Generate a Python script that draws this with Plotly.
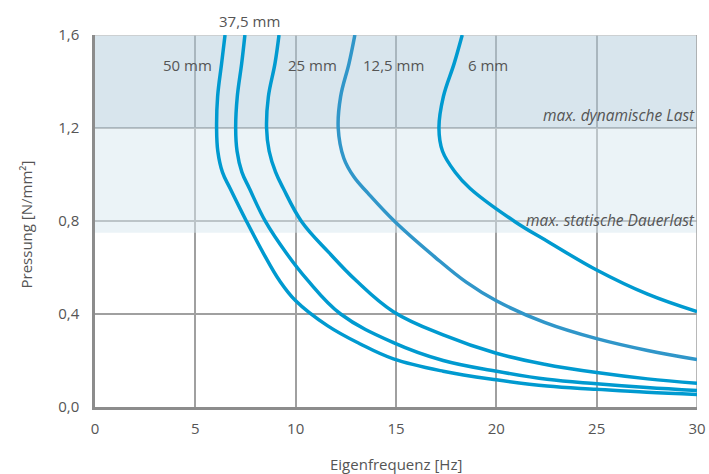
import plotly.graph_objects as go

# ---- data ----
x_50 = [6.48, 6.31, 6.11, 6.06, 6.12, 6.35, 6.73, 7.56, 8.40, 9.20, 10.0, 11.58, 13.22, 14.87, 17.35, 20.0, 22.53, 25.0, 27.5, 30.0]
y_50 = [1.60, 1.478, 1.335, 1.20, 1.10, 1.01, 0.941, 0.797, 0.660, 0.543, 0.457, 0.350, 0.271, 0.207, 0.154, 0.117, 0.090, 0.076, 0.063, 0.054]

x_375 = [7.47, 7.31, 7.09, 7.01, 7.08, 7.32, 7.69, 8.50, 9.55, 10.55, 12.24, 14.87, 17.35, 20.0, 22.53, 25.0, 27.5, 30.0]
y_375 = [1.60, 1.478, 1.335, 1.20, 1.10, 1.01, 0.941, 0.797, 0.660, 0.550, 0.400, 0.277, 0.200, 0.154, 0.119, 0.100, 0.084, 0.071]

x_25 = [9.17, 8.97, 8.64, 8.55, 8.68, 9.00, 9.38, 10.30, 11.65, 13.0, 14.87, 17.35, 20.0, 22.4, 25.0, 27.54, 30.0]
y_25 = [1.60, 1.478, 1.335, 1.20, 1.10, 1.01, 0.941, 0.797, 0.665, 0.545, 0.410, 0.310, 0.231, 0.184, 0.148, 0.121, 0.102]

x_125 = [12.95, 12.66, 12.24, 12.12, 12.40, 12.90, 13.60, 14.95, 16.94, 18.50, 20.0, 22.4, 25.0, 27.54, 30.0]
y_125 = [1.60, 1.478, 1.335, 1.20, 1.07, 0.99, 0.920, 0.797, 0.645, 0.537, 0.457, 0.364, 0.294, 0.243, 0.204]

x_6 = [18.30, 17.90, 17.36, 17.14, 17.32, 17.95, 18.68, 20.93, 22.6, 25.0, 27.54, 30.0]
y_6 = [1.60, 1.478, 1.335, 1.20, 1.10, 1.01, 0.941, 0.797, 0.710, 0.589, 0.485, 0.410]

series_names = ["50 mm", "37,5 mm", "25 mm", "12,5 mm", "6 mm"]
series_x = [x_50, x_375, x_25, x_125, x_6]
series_y = [y_50, y_375, y_25, y_125, y_6]
series_colors = ["#009ad0", "#009ad0", "#009ad0", "#3096c9", "#009ad0"]

# label anchor positions (data units; y may lie above the plotted range)
label_x = [4.6, 7.7, 10.85, 14.9, 19.6]
label_y = [1.47, 1.662, 1.47, 1.47, 1.47]

x_tickvals = [0, 5, 10, 15, 20, 25, 30]
x_ticktext = ["0", "5", "10", "15", "20", "25", "30"]
y_tickvals = [0.0, 0.4, 0.8, 1.2, 1.6]
y_ticktext = ["0,0", "0,4", "0,8", "1,2", "1,6"]

band_dyn = (1.2, 1.6)
band_stat = (0.75, 1.2)
band_texts = ["max. dynamische Last", "max. statische Dauerlast"]
band_text_y = [1.2, 0.75]

Y_MAX = 1.6
FONT = "Open Sans, sans-serif"
TXT = "#555555"

fig = go.Figure()
for name, xs, ys, c in zip(series_names, series_x, series_y, series_colors):
    fig.add_trace(go.Scatter(x=xs, y=ys, mode="lines", name=name,
                             line=dict(color=c, width=3.5, shape="spline", smoothing=1.1),
                             showlegend=False, hoverinfo="skip"))

shapes = [
    dict(type="rect", xref="x", yref="y", x0=0, x1=30, y0=band_dyn[0], y1=band_dyn[1],
         fillcolor="rgba(177,203,219,0.5)", line_width=0, layer="between"),
    dict(type="rect", xref="x", yref="y", x0=0, x1=30, y0=band_stat[0], y1=band_stat[1],
         fillcolor="rgba(215,231,239,0.5)", line_width=0, layer="between"),
    dict(type="line", xref="x", yref="y", x0=0, x1=30, y0=1.6, y1=1.6,
         line=dict(color="#c8c8c8", width=1.5), layer="between"),
    dict(type="line", xref="x", yref="y", x0=30, x1=30, y0=0, y1=1.6,
         line=dict(color="#a0a0a0", width=1.5), layer="between"),
]

annotations = []
for t, lx, ly in zip(series_names, label_x, label_y):
    annotations.append(dict(x=lx, y=ly / Y_MAX, xref="x", yref="paper", text=t, showarrow=False,
                            xanchor="center", yanchor="middle",
                            font=dict(family=FONT, size=15, color=TXT)))
for t, ty in zip(band_texts, band_text_y):
    annotations.append(dict(x=30, y=ty, xref="x", yref="y", text="<i>" + t + "</i>",
                            showarrow=False, xanchor="right", yanchor="bottom",
                            font=dict(family=FONT, size=15.5, color=TXT)))
annotations.append(dict(x=0.5, y=-0.152, xref="paper", yref="paper", text="Eigenfrequenz [Hz]",
                        showarrow=False, yanchor="middle",
                        font=dict(family=FONT, size=15, color=TXT)))
annotations.append(dict(x=-0.115, y=0.49, xref="paper", yref="paper", text="Pressung [N/mm²]",
                        showarrow=False, textangle=-90, xanchor="center", yanchor="middle",
                        font=dict(family=FONT, size=15, color=TXT)))

fig.update_layout(
    width=709, height=474,
    margin=dict(l=95, r=12, t=35, b=67),
    paper_bgcolor="white", plot_bgcolor="white",
    shapes=shapes, annotations=annotations,
    xaxis=dict(range=[0, 30], tickvals=x_tickvals, ticktext=x_ticktext, automargin=False,
               showgrid=True, gridcolor="#a0a0a0", gridwidth=1.5,
               showline=True, linecolor="#8c8c8c", linewidth=2.5,
               ticks="outside", ticklen=6, tickcolor="rgba(0,0,0,0)",
               zeroline=False, tickfont=dict(family=FONT, size=15, color=TXT)),
    yaxis=dict(range=[0, 1.6], tickvals=y_tickvals, ticktext=y_ticktext, automargin=False,
               showgrid=True, gridcolor="#a0a0a0", gridwidth=1.5,
               showline=True, linecolor="#8c8c8c", linewidth=2.5,
               ticks="outside", ticklen=10, tickcolor="rgba(0,0,0,0)",
               zeroline=False, tickfont=dict(family=FONT, size=15, color=TXT)),
)

# remove the default page margin so the 709x474 figure fills the window exactly
fig.write_html("out.html", config={"displayModeBar": False},
               post_script="document.body.style.margin='0';document.body.style.overflow='hidden';")
